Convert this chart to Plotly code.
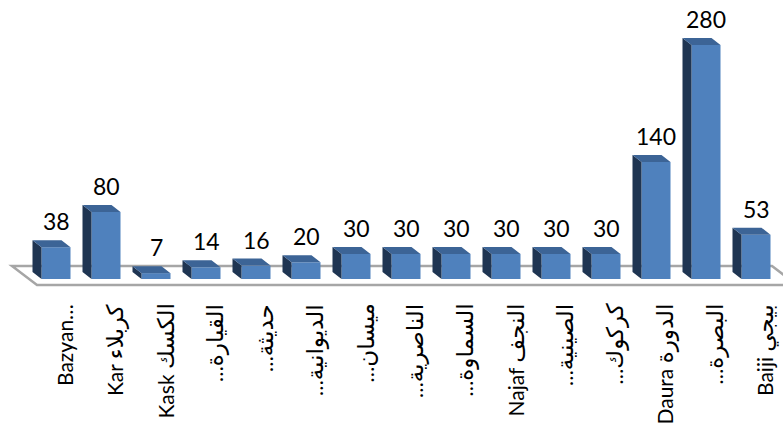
import re
import plotly.graph_objects as go

categories = ["Bazyan…", "Kar كربلاء", "Kask الكسك", "…القيارة", "…حديثة",
              "…الديوانية", "…ميسان", "…الناصرية", "…السماوة", "Najaf النجف",
              "…الصينية", "…كركوك", "Daura الدورة", "…البصرة", "Baiji بيجي"]
values = [38, 80, 7, 14, 16, 20, 30, 30, 30, 30, 30, 30, 140, 280, 53]

W, H = 783, 425
PX_X = 50.0     # pixels per category
PX_Y = 0.836    # pixels per value unit
X0_PX = 56      # pixel x of first category
Y0_PX = 279     # pixel y of value 0


def ux(p):
    return p / PX_X


def uy(p):
    return p / PX_Y


half = ux(14.5)
ddx, ddy = ux(9), uy(7)
xs = list(range(len(values)))

FRONT = "#4F81BD"
SIDE = "#1F3552"
TOP = "#3C6496"
FONT = "Lato, DejaVu Sans, sans-serif"

# side & top faces derived from data
sx, sy, tx, ty = [], [], [], []
for i, v in zip(xs, values):
    l, r = i - half, i + half
    sx += [l, l, l - ddx, l - ddx, l, None]
    sy += [0, v, v + ddy, ddy, 0, None]
    tx += [l, r, r - ddx, l - ddx, l, None]
    ty += [v, v, v + ddy, v + ddy, v, None]

fig = go.Figure()
fig.add_trace(go.Bar(x=xs, y=values, width=2 * half, base=0,
                     marker=dict(color=FRONT, line=dict(width=0)),
                     hoverinfo="skip"))
fig.add_trace(go.Scatter(x=sx, y=sy, fill="toself", fillcolor=SIDE, mode="lines",
                         line=dict(width=0, color=SIDE), hoverinfo="skip"))
fig.add_trace(go.Scatter(x=tx, y=ty, fill="toself", fillcolor=TOP, mode="lines",
                         line=dict(width=0, color=TOP), hoverinfo="skip"))

# floor
yf, yb = uy(-6), uy(13)
fl = ux(37 - X0_PX)
bl = fl - ux(25)
br = ux(772 - X0_PX)
fr = br + ux(25)
floor_path = f"M {fl},{yf} L {fr},{yf} L {br},{yb} L {bl},{yb} Z"
fig.add_shape(type="path", path=floor_path, xref="x", yref="y", layer="below",
              line=dict(color="#A6A6A6", width=2.5), fillcolor="white")

# value labels
for i, v in zip(xs, values):
    fig.add_annotation(x=i, y=v + ddy, yshift=19, text=str(v), showarrow=False,
                       xanchor="center", yanchor="middle",
                       font=dict(family=FONT, size=23, color="black"))

# category labels (Arabic runs slightly larger, like the original rendering)
ar = re.compile(r"[\u0600-\u06FF]+")


def styled(s):
    return ar.sub(lambda m: f'<span style="font-size:23px">{m.group(0)}</span>', s)


for i, c in zip(xs, categories):
    fig.add_annotation(x=i + ux(8), y=yf, yshift=-17, text=styled(c), showarrow=False,
                       textangle=-90, xanchor="center", yanchor="top",
                       font=dict(family=FONT, size=21, color="black"))

x_lo = -X0_PX / PX_X
y_lo = -(H - Y0_PX) / PX_Y
fig.update_layout(
    width=W, height=H, margin=dict(l=0, r=0, t=0, b=0),
    paper_bgcolor="white", plot_bgcolor="white", showlegend=False,
    xaxis=dict(range=[x_lo, x_lo + W / PX_X], visible=False, fixedrange=True),
    yaxis=dict(range=[y_lo, y_lo + H / PX_Y], visible=False, fixedrange=True),
)
fig.write_html("out.html")
